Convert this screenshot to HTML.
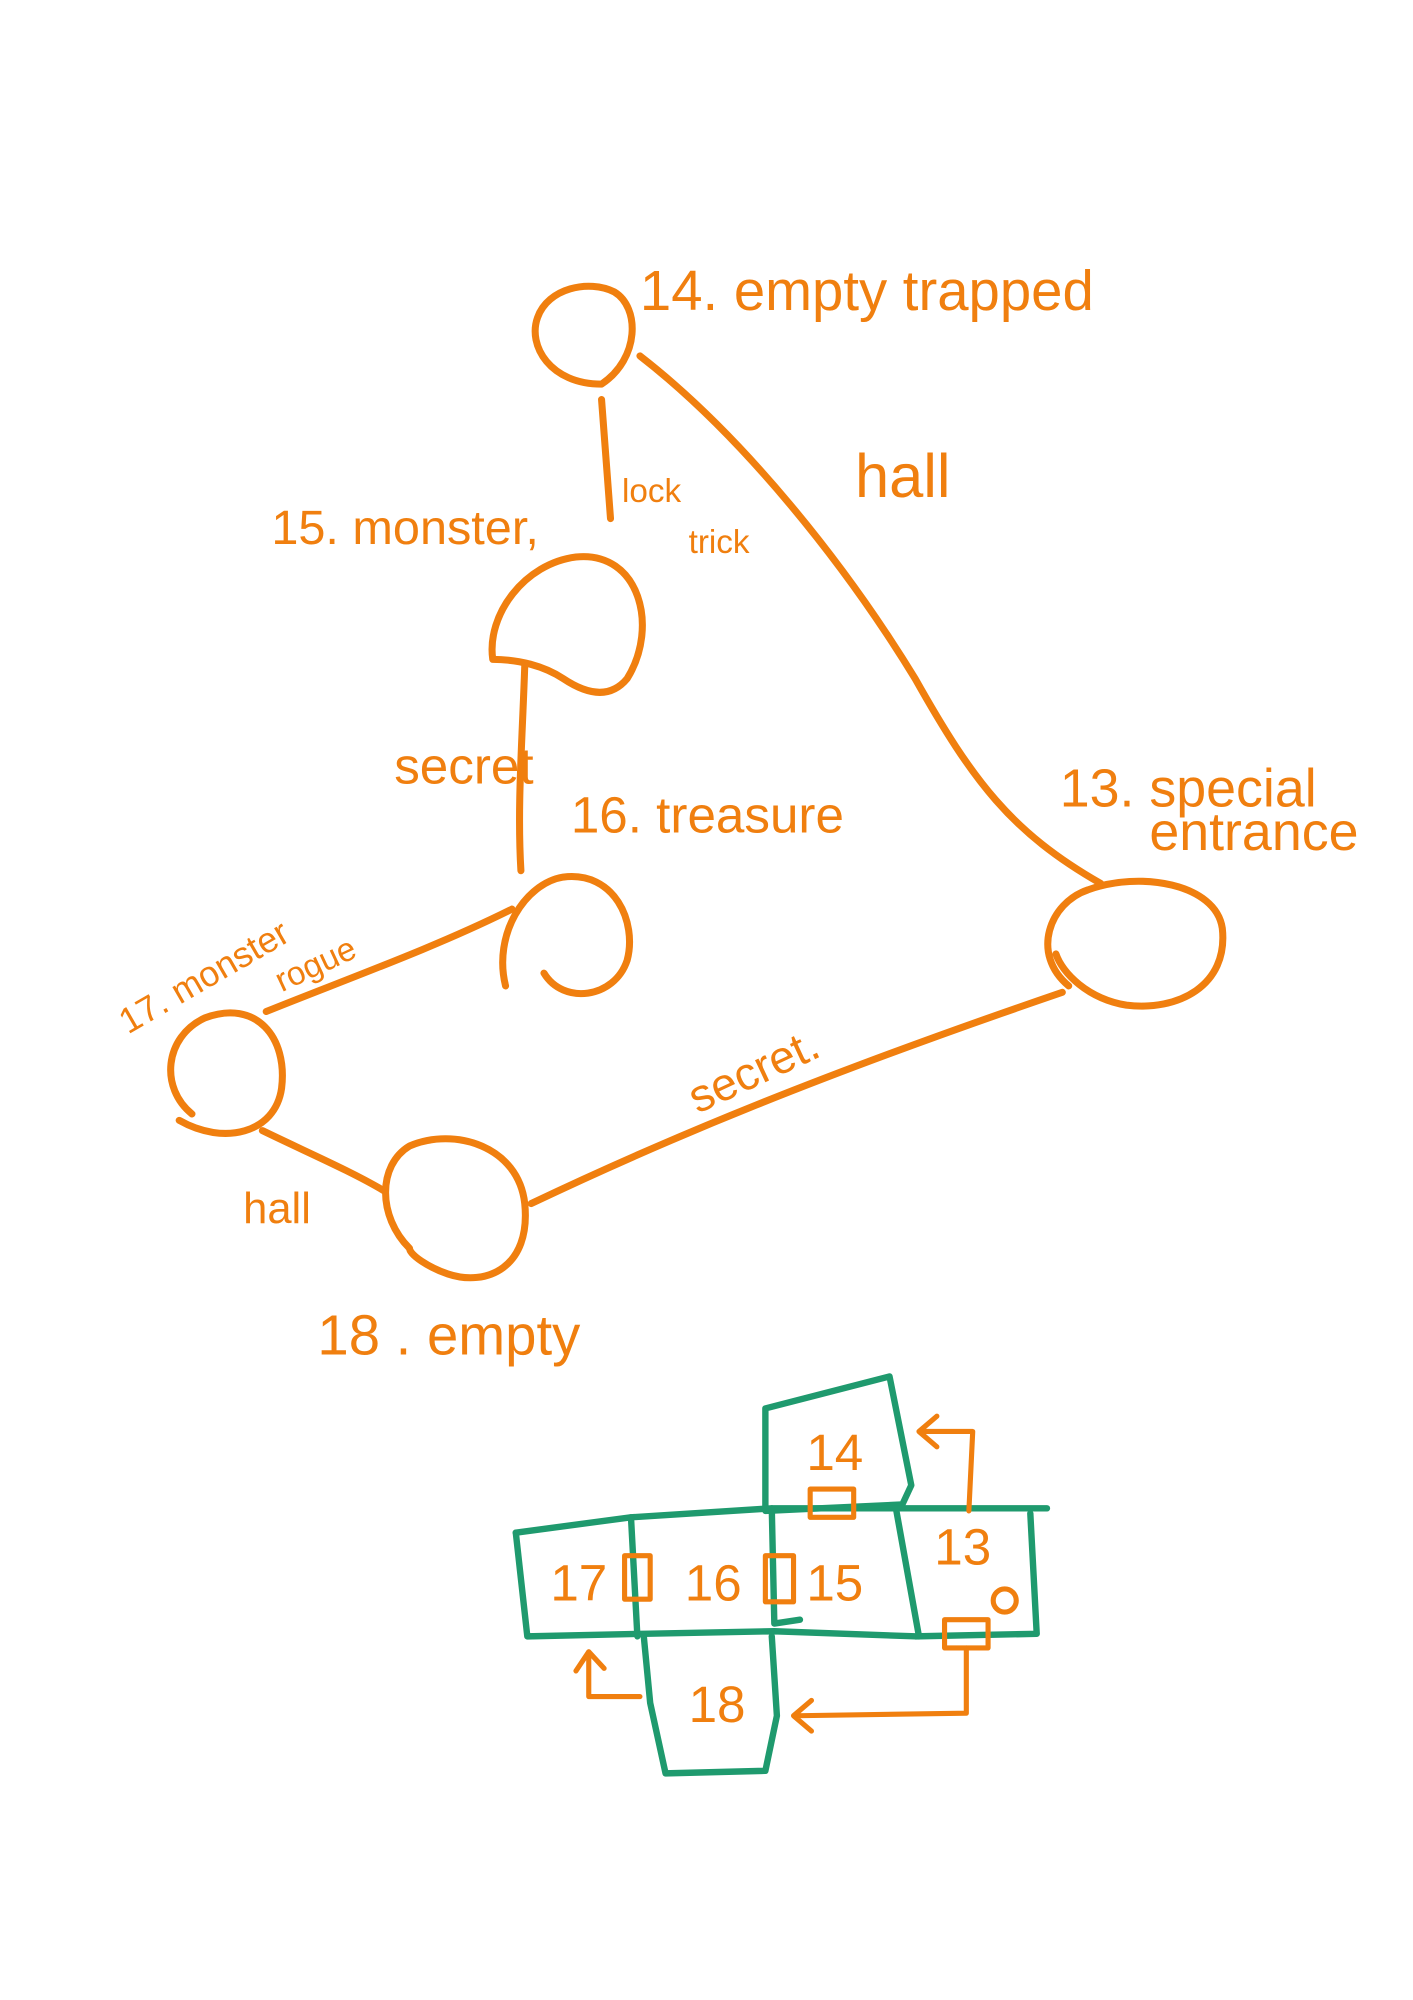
<!DOCTYPE html>
<html><head><meta charset="utf-8"><style>
html,body{margin:0;padding:0;background:#fff;}
svg{display:block;}
text{font-family:"Liberation Sans",sans-serif;fill:#f07f0f;}
</style></head><body>
<svg width="1413" height="2000" viewBox="0 0 1104 1562" preserveAspectRatio="none" xmlns="http://www.w3.org/2000/svg">
<g fill="none" stroke="#f07f0f" stroke-width="5.5" stroke-linecap="round" stroke-linejoin="round">
<path d="M470,300 C430,300 412,270 420,248 C428,225 460,218 480,228 C500,240 500,280 470,300 Z"/>
<path d="M470,312 L477,405"/>
<path d="M500,278 C580,340 660,440 715,530 C760,610 790,650 860,690"/>
<path d="M385,515 C380,480 410,440 450,435 C500,430 515,490 490,530 C475,548 455,540 440,530 C425,520 405,515 385,515"/>
<path d="M410,520 C408,580 404,630 407,680"/>
<path d="M395,770 C385,730 410,690 440,685 C480,680 498,720 490,750 C480,780 440,785 425,760"/>
<path d="M150,870 C125,850 128,810 160,795 C200,780 225,810 220,850 C215,885 175,895 140,875"/>
<path d="M208,790 C270,765 340,740 400,710"/>
<path d="M205,883 C240,900 275,915 300,930"/>
<path d="M320,975 C295,950 295,910 320,895 C355,880 405,895 410,940 C415,990 380,1005 350,995 C335,990 320,980 320,975"/>
<path d="M415,940 C520,890 640,840 830,775"/>
<path d="M835,770 C805,745 820,705 850,695 C890,680 950,690 955,725 C960,770 920,790 880,785 C850,780 830,760 825,745"/>
</g>
<g>
<text x="500" y="242" font-size="44">14. empty trapped</text>
<text x="668" y="388" font-size="48">hall</text>
<text x="212" y="425" font-size="38">15. monster,</text>
<text x="486" y="392" font-size="26">lock</text>
<text x="538" y="432" font-size="26">trick</text>
<text x="308" y="612" font-size="40">secret</text>
<text x="446" y="650" font-size="40">16. treasure</text>
<text x="100" y="808" font-size="28" transform="rotate(-30 100 808)">17. monster</text>
<text x="220" y="775" font-size="26" transform="rotate(-25 220 775)">rogue</text>
<text x="190" y="955" font-size="34">hall</text>
<text x="545" y="870" font-size="36" transform="rotate(-25 545 870)">secret.</text>
<text x="248" y="1058" font-size="44">18 . empty</text>
<text x="828" y="630" font-size="42">13. special</text>
<text x="898" y="664" font-size="42">entrance</text>
</g>
<g fill="none" stroke="#1f9a6e" stroke-width="5" stroke-linejoin="round" stroke-linecap="round">
<path d="M598,1100 L695,1075 L712,1160 L705,1175 L598,1180 Z"/>
<path d="M403,1197 L493,1185 L603,1178 L700,1178 L818,1178"/>
<path d="M403,1197 L412,1278 L503,1276 L605,1274 L715,1278 L810,1276 L805,1182"/>
<path d="M493,1185 L498,1278"/>
<path d="M603,1178 L605,1268 L625,1265"/>
<path d="M700,1178 L718,1278"/>
<path d="M503,1278 L508,1330 L520,1385 L598,1383 L607,1340 L603,1278"/>
</g>
<g font-size="40">
<text x="430" y="1250">17</text>
<text x="535" y="1250">16</text>
<text x="630" y="1250">15</text>
<text x="730" y="1222">13</text>
<text x="630" y="1148">14</text>
<text x="538" y="1345">18</text>
</g>
<g fill="none" stroke="#f07f0f" stroke-width="4" stroke-linejoin="round" stroke-linecap="round">
<rect x="633" y="1163" width="34" height="22"/>
<rect x="488" y="1215" width="20" height="34"/>
<rect x="598" y="1215" width="22" height="36"/>
<rect x="738" y="1265" width="34" height="22"/>
<circle cx="785" cy="1250" r="9"/>
<path d="M757,1180 L760,1118 L720,1118 M732,1106 L718,1118 L732,1130"/>
<path d="M755,1287 L755,1338 L622,1340 M634,1328 L620,1340 L634,1352"/>
<path d="M500,1325 L460,1325 L460,1292 M450,1305 L460,1290 L472,1303"/>
</g>
</svg>
</body></html>
